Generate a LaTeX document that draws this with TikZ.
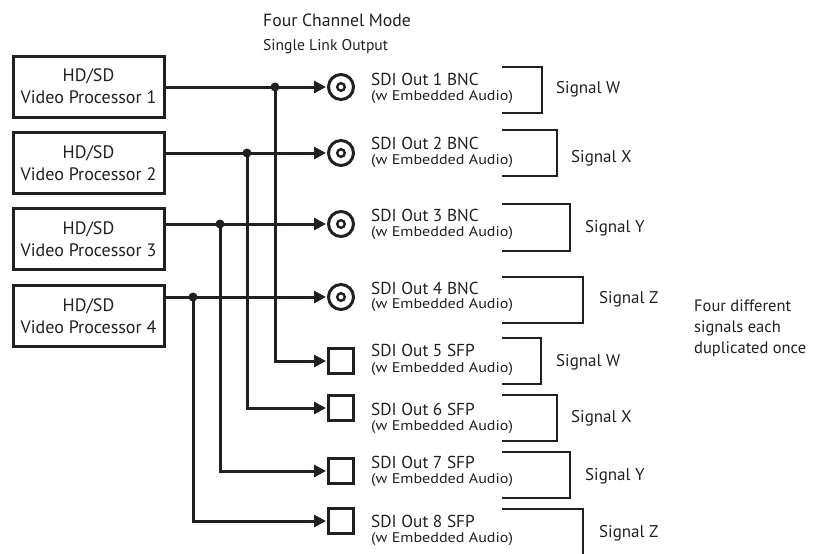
\documentclass[tikz,border=0pt]{standalone}
\usepackage{fontspec}
\setmainfont{PT Sans}
\usetikzlibrary{arrows.meta}
\definecolor{ink}{HTML}{231F20}
\newcommand{\wsmall}[1]{\scalebox{1.15}[1]{#1}}
\begin{document}
\begin{tikzpicture}[x=1pt,y=-1pt,
  proc/.style={draw=ink,line width=3pt,minimum width=151pt,minimum height=61pt,inner sep=0pt,align=center,font=\fontsize{18}{22}\selectfont,text=ink},
  bnc/.style={circle,draw=ink,line width=3pt,minimum size=25pt,inner sep=0pt},
  sfp/.style={rectangle,draw=ink,line width=3pt,minimum size=25pt,inner sep=0pt},
  wire/.style={draw=ink,line width=3pt},
  arr/.style={wire,-{Triangle[length=12pt,width=12pt]},shorten >=1pt},
  jdot/.style={circle,fill=ink,minimum size=9pt,inner sep=0pt},
  big/.style={font=\fontsize{17.3}{20}\selectfont,text=ink,anchor=base west,inner sep=0pt},
  small/.style={font=\fontsize{14}{16}\selectfont,text=ink,anchor=base west,inner sep=0pt},
  brk/.style={draw=ink,line width=2.5pt},
  sig/.style={font=\fontsize{17}{20}\selectfont,text=ink,anchor=west,inner sep=0pt},
  note/.style={font=\fontsize{16.5}{21}\selectfont,text=ink,anchor=north west,inner sep=0pt,align=left}
]
\useasboundingbox (0,0) rectangle (814,554);
\clip (0,0) rectangle (814,554);

% title
\node[font=\fontsize{17.7}{22}\selectfont,text=ink,anchor=base west,inner sep=0pt] (title) at (263,26) {Four Channel Mode};
\node[font=\fontsize{15.6}{18}\selectfont,text=ink,anchor=base west,inner sep=0pt] (subtitle) at (263,50) {Single Link Output};

% processors
\node[proc] (p1) at (88.5,86.5) {HD/SD\\Video Processor 1};
\node[proc] (p2) at (88.5,163) {HD/SD\\Video Processor 2};
\node[proc] (p3) at (88.5,239) {HD/SD\\Video Processor 3};
\node[proc] (p4) at (88.5,316) {HD/SD\\Video Processor 4};

% connectors (outputs)
\node[bnc] (c1) at (341,87) {};
\node[bnc] (c2) at (341,153) {};
\node[bnc] (c3) at (341,224) {};
\node[bnc] (c4) at (341,297) {};
\foreach \c in {c1,c2,c3,c4}{\draw[draw=ink,line width=2.4pt] (\c) circle (3.8pt);}
\node[sfp] (c5) at (341,361) {};
\node[sfp] (c6) at (341,408) {};
\node[sfp] (c7) at (341,471) {};
\node[sfp] (c8) at (341,521) {};

% junctions
\coordinate (j1) at (275,87);
\coordinate (j2) at (247,153);
\coordinate (j3) at (220,224);
\coordinate (j4) at (193,297);

% wires
\draw[arr] (p1.east |- c1.west) -- (c1.west);
\draw[arr] (p2.east |- c2.west) -- (c2.west);
\draw[arr] (p3.east |- c3.west) -- (c3.west);
\draw[arr] (p4.east |- c4.west) -- (c4.west);
\draw[arr] (j1) |- (c5.west);
\draw[arr] (j2) |- (c6.west);
\draw[arr] (j3) |- (c7.west);
\draw[arr] (j4) |- (c8.west);
\foreach \j in {j1,j2,j3,j4}{\node[jdot] at (\j) {};}

% labels
\node[big] (t1) at (371,85) {SDI Out 1 BNC};
\node[small] (s1) at (371,100) {\wsmall{(w Embedded Audio)}};
\node[big] (t2) at (371,149) {SDI Out 2 BNC};
\node[small] (s2) at (371,164) {\wsmall{(w Embedded Audio)}};
\node[big] (t3) at (371,221) {SDI Out 3 BNC};
\node[small] (s3) at (371,236) {\wsmall{(w Embedded Audio)}};
\node[big] (t4) at (371,294) {SDI Out 4 BNC};
\node[small] (s4) at (371,308) {\wsmall{(w Embedded Audio)}};
\node[big] (t5) at (371,356) {SDI Out 5 SFP};
\node[small] (s5) at (371,372) {\wsmall{(w Embedded Audio)}};
\node[big] (t6) at (371,415) {SDI Out 6 SFP};
\node[small] (s6) at (371,430) {\wsmall{(w Embedded Audio)}};
\node[big] (t7) at (371,468) {SDI Out 7 SFP};
\node[small] (s7) at (371,483) {\wsmall{(w Embedded Audio)}};
\node[big] (t8) at (371,527) {SDI Out 8 SFP};
\node[small] (s8) at (371,542) {\wsmall{(w Embedded Audio)}};

% brackets
\draw[brk] (502,67) -- (542,67) -- (542,113) -- (502,113);
\draw[brk] (502,130) -- (557,130) -- (557,176) -- (502,176);
\draw[brk] (502,204) -- (570,204) -- (570,251) -- (502,251);
\draw[brk] (502,277) -- (583,277) -- (583,323) -- (502,323);
\draw[brk] (502,338) -- (541,338) -- (541,384) -- (502,384);
\draw[brk] (502,395) -- (557,395) -- (557,441) -- (502,441);
\draw[brk] (502,452) -- (570,452) -- (570,498) -- (502,498);
\draw[brk] (502,509) -- (583,509) -- (583,560);

% signal names
\node[sig] (w1) at (556,89) {Signal W};
\node[sig] (x1) at (571,158) {Signal X};
\node[sig] (y1) at (585,228) {Signal Y};
\node[sig] (z1) at (599,299) {Signal Z};
\node[sig] (w2) at (556,362) {Signal W};
\node[sig] (x2) at (571,418) {Signal X};
\node[sig] (y2) at (585,476) {Signal Y};
\node[sig] (z2) at (599,533) {Signal Z};

\node[note] (n) at (694,300) {Four different\\signals each\\duplicated once};
\end{tikzpicture}
\end{document}
